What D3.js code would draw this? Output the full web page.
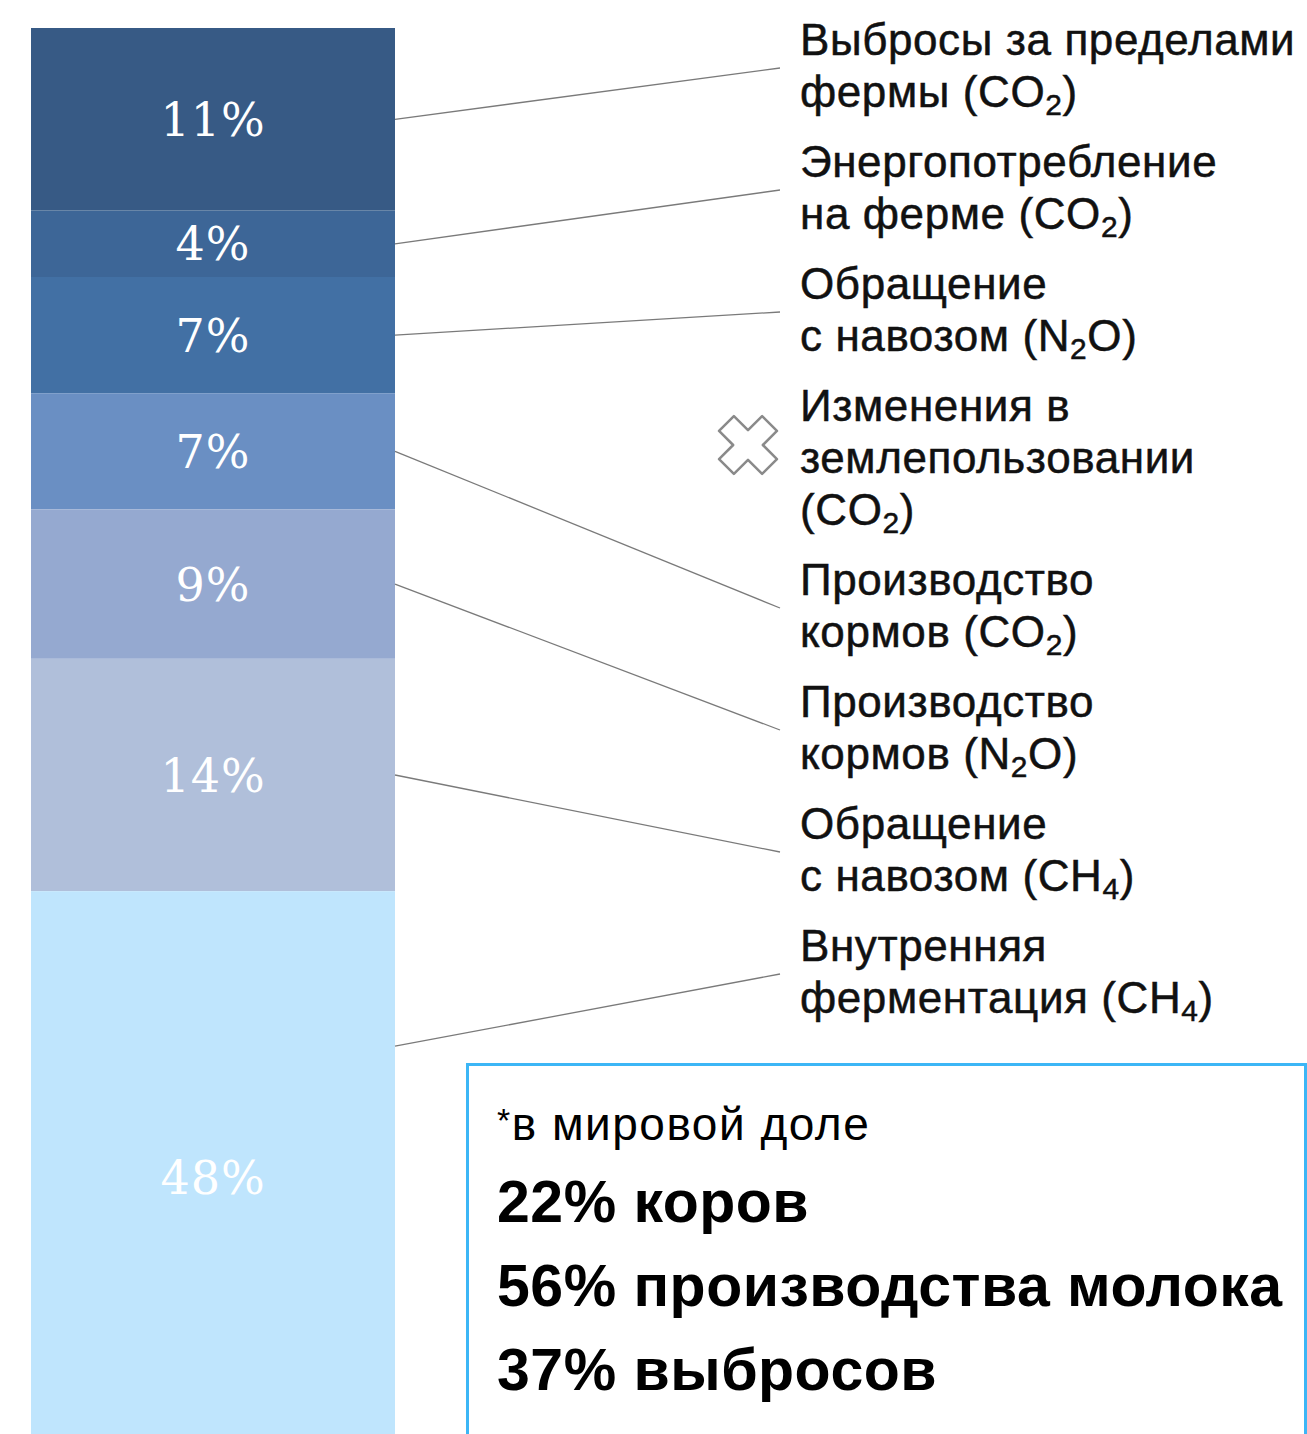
<!DOCTYPE html>
<html><head><meta charset="utf-8">
<script src="https://cdn.jsdelivr.net/npm/d3@7"></script>
<style>html,body{margin:0;padding:0;background:#fff;overflow:hidden}</style>
</head><body>
<script>
// ---- data ----
const values = [11, 4, 7, 7, 9, 14, 48];
const valueLabels = ["11%", "4%", "7%", "7%", "9%", "14%", "48%"];
const categories = [
  ["Выбросы за пределами", "фермы (CO_2)"],
  ["Энергопотребление", "на ферме (CO_2)"],
  ["Обращение", "с навозом (N_2O)"],
  ["Производство", "кормов (CO_2)"],
  ["Производство", "кормов (N_2O)"],
  ["Обращение", "с навозом (CH_4)"],
  ["Внутренняя", "ферментация (CH_4)"]
];
const excludedCategory = ["Изменения в", "землепользовании", "(CO_2)"];
const excludedAfter = 2; // listed after 3rd category
const segmentColors = ["#375a85", "#3d6697", "#4270a4", "#6a8fc3", "#95a9d0", "#b0bfda", "#bfe5fd"];
const noteTitle = "*в мировой доле";
const noteLines = ["22% коров", "56% производства молока", "37% выбросов"];

// ---- layout ----
const W = 1307, H = 1434;
const svg = d3.select("body").append("svg").attr("width", W).attr("height", H);

const barX = 31, barW = 364;
const cum = [];
values.reduce((a, v, i) => { cum.push([a, a + v]); return a + v; }, 0);
const y = d3.scaleLinear().domain([0, 100]).range([28, 28 + 100 * 16.6]);

const segs = svg.append("g");
segs.selectAll("rect").data(values).join("rect")
  .attr("x", barX).attr("width", barW)
  .attr("y", (d, i) => y(cum[i][0]))
  .attr("height", (d, i) => y(cum[i][1]) - y(cum[i][0]))
  .attr("fill", (d, i) => segmentColors[i]);

function visCenter(i) {
  const a = y(cum[i][0]), b = Math.min(H, y(cum[i][1]));
  return (a + b) / 2;
}
segs.selectAll("text").data(valueLabels).join("text")
  .attr("x", barX + barW / 2)
  .attr("y", (d, i) => visCenter(i) + (i === 6 ? 15 : 0))
  .attr("dy", "0.36em")
  .attr("text-anchor", "middle")
  .attr("fill", "#fff")
  .attr("font-family", "DejaVu Serif, serif")
  .attr("font-size", 46)
  .attr("letter-spacing", 1)
  .text(d => d);

// ---- labels ----
const labelX = 800, lineH = 52, blockGap = 18;
const blocks = [];
let base = 55;
categories.forEach((c, i) => {
  blocks.push({lines: c, base, idx: i});
  base += c.length * lineH + blockGap;
  if (i === excludedAfter) {
    blocks.push({lines: excludedCategory, base, idx: -1});
    base += excludedCategory.length * lineH + blockGap;
  }
});

function addRich(sel, str) {
  const parts = str.split(/_(\d)/);
  let shift = 0;
  parts.forEach((p, k) => {
    if (k % 2 === 0) {
      if (p) { sel.append("tspan").attr("dy", shift ? -shift : null).text(p); shift = 0; }
    } else {
      sel.append("tspan").attr("font-size", "0.68em").attr("dy", 8).text(p);
      shift = 8;
    }
  });
}

const lg = svg.append("g").attr("font-family", "Liberation Sans, Arial, sans-serif")
  .attr("font-size", 44).attr("fill", "#111").attr("stroke", "#111").attr("stroke-width", 0.5);
blocks.forEach(b => {
  b.lines.forEach((ln, j) => {
    const t = lg.append("text").attr("x", labelX).attr("y", b.base + j * lineH)
      .attr("letter-spacing", 0.6);
    addRich(t, ln);
  });
});

// leader lines
const leaders = svg.append("g").attr("stroke", "#7a7a7a").attr("stroke-width", 1.3).attr("fill", "none");
blocks.filter(b => b.idx >= 0).forEach(b => {
  const i = b.idx;
  const y0 = Math.min(visCenter(i), y(cum[i][0]) + 155);
  leaders.append("line")
    .attr("x1", barX + barW).attr("y1", y0)
    .attr("x2", 780).attr("y2", b.base + 13);
});

// X marker for excluded category
const xb = blocks.find(b => b.idx === -1);
const cx = 748, cy = xb.base + 24, a = 10, L = 29;
const crossPts = [[-a,-L],[a,-L],[a,-a],[L,-a],[L,a],[a,a],[a,L],[-a,L],[-a,a],[-L,a],[-L,-a],[-a,-a]];
svg.append("path")
  .attr("transform", `translate(${cx},${cy}) rotate(45) scale(1.05)`)
  .attr("fill", "#fff").attr("stroke", "#8a8a8a").attr("stroke-width", 2.4)
  .attr("stroke-linejoin", "round")
  .attr("d", d3.line()(crossPts) + "Z");

// ---- note box ----
const box = svg.append("g");
box.append("rect").attr("x", 467.5).attr("y", 1064.5).attr("width", 838).attr("height", 380)
  .attr("fill", "#fff").attr("stroke", "#3cb6f6").attr("stroke-width", 3);
const nt = box.append("text").attr("x", 497).attr("y", 1140)
  .attr("font-family", "Liberation Sans, Arial, sans-serif").attr("font-size", 46).attr("fill", "#000")
  .attr("letter-spacing", 1.5);
nt.append("tspan").attr("dy", -8).attr("font-size", 34).text("*");
nt.append("tspan").attr("dy", 8).text(noteTitle.slice(1));
box.selectAll("text.big").data(noteLines).join("text").attr("class", "big")
  .attr("x", 497).attr("y", (d, i) => 1222 + i * 84)
  .attr("font-family", "Liberation Sans, Arial, sans-serif").attr("font-weight", "bold")
  .attr("font-size", 59).attr("fill", "#000").attr("letter-spacing", 0.5)
  .text(d => d);
</script>
</body></html>
